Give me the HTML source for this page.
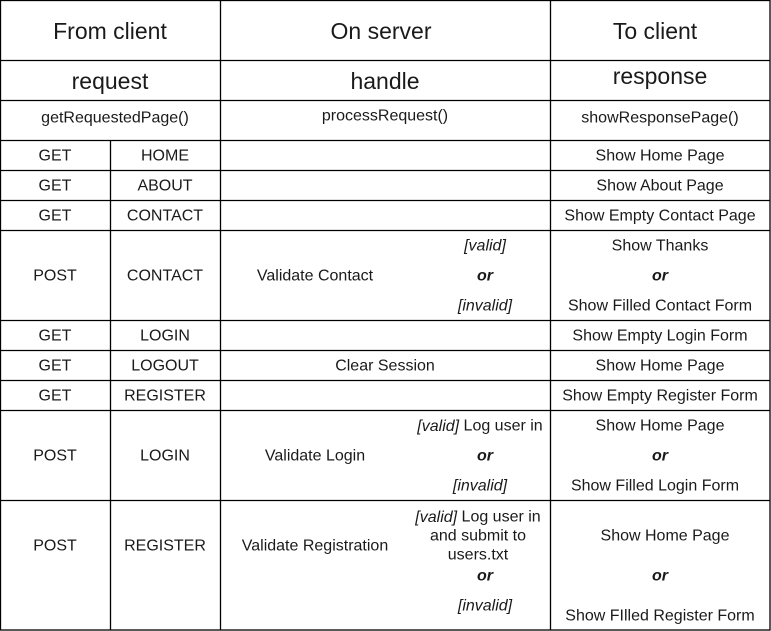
<!DOCTYPE html>
<html><head><meta charset="utf-8"><style>
html,body{margin:0;padding:0;background:#fff;}
svg{display:block;}
text{font-family:"Liberation Sans",Arial,sans-serif;fill:#1a1a1a;dominant-baseline:central;text-anchor:middle;font-size:16px;}
.h{font-size:23px;}
.f{font-size:16px;}
.i{font-style:italic;}
.o{font-style:italic;font-weight:bold;}
</style></head><body>
<svg width="771" height="631" viewBox="0 0 771 631" xmlns="http://www.w3.org/2000/svg">
<g stroke="#000" stroke-width="1.3" fill="none">
<rect x="0.5" y="0.5" width="769.5" height="629.5"/>
<line x1="220.5" y1="0" x2="220.5" y2="630"/>
<line x1="550.5" y1="0" x2="550.5" y2="630"/>
<line x1="110.5" y1="140" x2="110.5" y2="630"/>
<line x1="0" y1="60.5" x2="770" y2="60.5"/>
<line x1="0" y1="100.5" x2="770" y2="100.5"/>
<line x1="0" y1="140.5" x2="770" y2="140.5"/>
<line x1="0" y1="170.5" x2="770" y2="170.5"/>
<line x1="0" y1="200.5" x2="770" y2="200.5"/>
<line x1="0" y1="230.5" x2="770" y2="230.5"/>
<line x1="0" y1="320.5" x2="770" y2="320.5"/>
<line x1="0" y1="350.5" x2="770" y2="350.5"/>
<line x1="0" y1="380.5" x2="770" y2="380.5"/>
<line x1="0" y1="410.5" x2="770" y2="410.5"/>
<line x1="0" y1="500.5" x2="770" y2="500.5"/>
</g>
<g transform="translate(0,1)">
<text class="h" x="110" y="30">From client</text>
<text class="h" x="381" y="30">On server</text>
<text class="h" x="655" y="30">To client</text>
<text class="h" x="110" y="80">request</text>
<text class="h" x="385" y="80">handle</text>
<text class="h" x="660" y="75">response</text>
<text class="f" x="115" y="117">getRequestedPage()</text>
<text class="f" x="385" y="115">processRequest()</text>
<text class="f" x="660" y="117">showResponsePage()</text>

<text x="55" y="155">GET</text><text x="165" y="155">HOME</text><text x="660" y="155">Show Home Page</text>
<text x="55" y="185">GET</text><text x="165" y="185">ABOUT</text><text x="660" y="185">Show About Page</text>
<text x="55" y="215">GET</text><text x="165" y="215">CONTACT</text><text x="660" y="215">Show Empty Contact Page</text>

<text x="55" y="275">POST</text><text x="165" y="275">CONTACT</text>
<text x="315" y="275">Validate Contact</text>
<text class="i" x="485" y="245">[valid]</text>
<text class="o" x="485" y="275">or</text>
<text class="i" x="485" y="305">[invalid]</text>
<text x="660" y="245">Show Thanks</text>
<text class="o" x="660" y="275">or</text>
<text x="660" y="305">Show Filled Contact Form</text>

<text x="55" y="335">GET</text><text x="165" y="335">LOGIN</text><text x="660" y="335">Show Empty Login Form</text>
<text x="55" y="365">GET</text><text x="165" y="365">LOGOUT</text><text x="385" y="365">Clear Session</text><text x="660" y="365">Show Home Page</text>
<text x="55" y="395">GET</text><text x="165" y="395">REGISTER</text><text x="660" y="395">Show Empty Register Form</text>

<text x="55" y="455">POST</text><text x="165" y="455">LOGIN</text>
<text x="315" y="455">Validate Login</text>
<text x="480" y="425"><tspan class="i">[valid]</tspan> Log user in</text>
<text class="o" x="485" y="455">or</text>
<text class="i" x="480" y="485">[invalid]</text>
<text x="660" y="425">Show Home Page</text>
<text class="o" x="660" y="455">or</text>
<text x="655" y="485">Show Filled Login Form</text>

<text x="55" y="545">POST</text><text x="165" y="545">REGISTER</text>
<text x="315" y="545">Validate Registration</text>
<text x="478" y="516"><tspan class="i">[valid]</tspan> Log user in</text>
<text x="478" y="535">and submit to</text>
<text x="478" y="554">users.txt</text>
<text class="o" x="485" y="575">or</text>
<text class="i" x="485" y="605">[invalid]</text>
<text x="665" y="535">Show Home Page</text>
<text class="o" x="660" y="575">or</text>
<text x="660" y="615">Show FIlled Register Form</text>
</g>
</svg>
</body></html>
